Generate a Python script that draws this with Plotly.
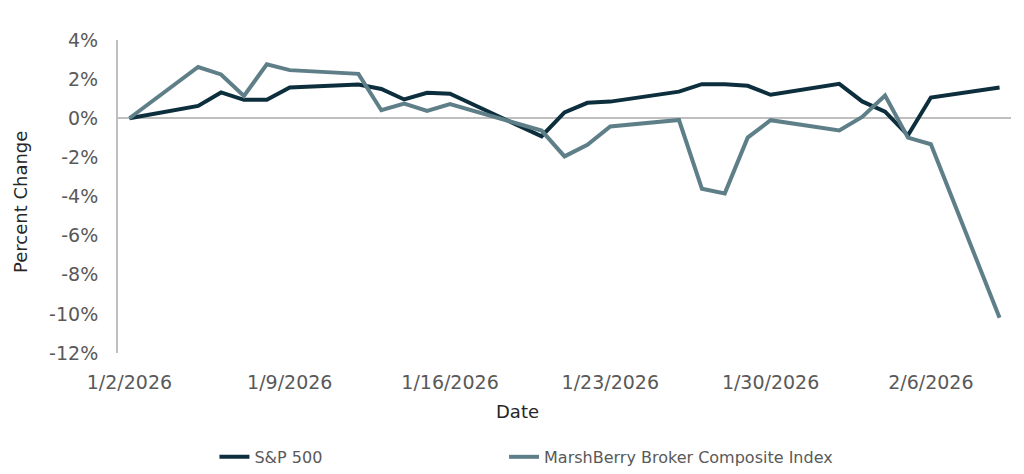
import plotly.graph_objects as go

dates = ["2026-01-02", "2026-01-05", "2026-01-06", "2026-01-07", "2026-01-08", "2026-01-09",
         "2026-01-12", "2026-01-13", "2026-01-14", "2026-01-15", "2026-01-16",
         "2026-01-20", "2026-01-21", "2026-01-22", "2026-01-23",
         "2026-01-26", "2026-01-27", "2026-01-28", "2026-01-29", "2026-01-30",
         "2026-02-02", "2026-02-03", "2026-02-04", "2026-02-05", "2026-02-06",
         "2026-02-09"]

sp500 = [0.0, 0.63, 1.32, 0.94, 0.94, 1.57,
         1.72, 1.50, 0.96, 1.30, 1.25,
         -0.92, 0.30, 0.79, 0.85,
         1.36, 1.74, 1.74, 1.66, 1.20,
         1.76, 0.86, 0.34, -0.87, 1.06,
         1.57]

marshberry = [0.0, 2.62, 2.24, 1.14, 2.76, 2.46,
              2.27, 0.41, 0.75, 0.38, 0.73,
              -0.63, -1.95, -1.36, -0.42,
              -0.09, -3.60, -3.84, -0.99, -0.10,
              -0.62, 0.07, 1.16, -0.99, -1.33,
              -10.2]

tick_dates = ["2026-01-02", "2026-01-09", "2026-01-16", "2026-01-23", "2026-01-30", "2026-02-06"]
tick_labels = ["1/2/2026", "1/9/2026", "1/16/2026", "1/23/2026", "1/30/2026", "2/6/2026"]
y_ticks = [4, 2, 0, -2, -4, -6, -8, -10, -12]
y_labels = [f"{v}%" for v in y_ticks]

FONT = "DejaVu Sans"
TICK_COLOR = "#595959"

fig = go.Figure()
fig.add_trace(go.Scatter(x=dates, y=sp500, mode="lines", name="S&P 500",
                         line=dict(color="#0d2f3d", width=4), legend="legend"))
fig.add_trace(go.Scatter(x=dates, y=marshberry, mode="lines",
                         name="MarshBerry Broker Composite Index",
                         line=dict(color="#5f7f88", width=4), legend="legend2"))

fig.update_layout(
    width=1016, height=466,
    margin=dict(l=110, r=13, t=32, b=121, autoexpand=False),
    paper_bgcolor="white", plot_bgcolor="white",
    font=dict(family=FONT, color=TICK_COLOR),
    showlegend=True,
    legend=dict(orientation="h", x=0.108, xanchor="left", y=-0.332, yanchor="middle",
                font=dict(size=16, color=TICK_COLOR, family=FONT), bgcolor="rgba(0,0,0,0)"),
    legend2=dict(orientation="h", x=0.4323, xanchor="left", y=-0.332, yanchor="middle",
                 font=dict(size=16, color=TICK_COLOR, family=FONT), bgcolor="rgba(0,0,0,0)"),
    xaxis=dict(
        type="date",
        range=["2026-01-01 12:00", "2026-02-09 12:00"],
        tickvals=tick_dates, ticktext=tick_labels,
        tickfont=dict(size=19, color=TICK_COLOR, family=FONT),
        showgrid=False, showline=False, zeroline=False,
        ticks="", ticklabelstandoff=16,
    ),
    yaxis=dict(
        range=[-12, 4],
        tickvals=y_ticks, ticktext=y_labels,
        tickfont=dict(size=19, color=TICK_COLOR, family=FONT),
        showgrid=False, showline=True, linecolor="#bfbfbf", linewidth=2,
        zeroline=True, zerolinecolor="#bfbfbf", zerolinewidth=2,
        ticks="", ticklabelstandoff=14,
    ),
    annotations=[
        dict(text="Date", xref="paper", yref="paper", x=(517 - 118) / 893, y=-(412 - 353) / 313,
             xanchor="center", yanchor="middle", showarrow=False,
             font=dict(size=18, color="#262626", family=FONT)),
        dict(text="Percent Change", xref="paper", yref="paper", x=-(118 - 20) / 893,
             y=(353 - 202) / 313, xanchor="center", yanchor="middle", showarrow=False,
             textangle=-90, font=dict(size=18, color="#262626", family=FONT)),
    ],
)

fig.write_html("out.html")
